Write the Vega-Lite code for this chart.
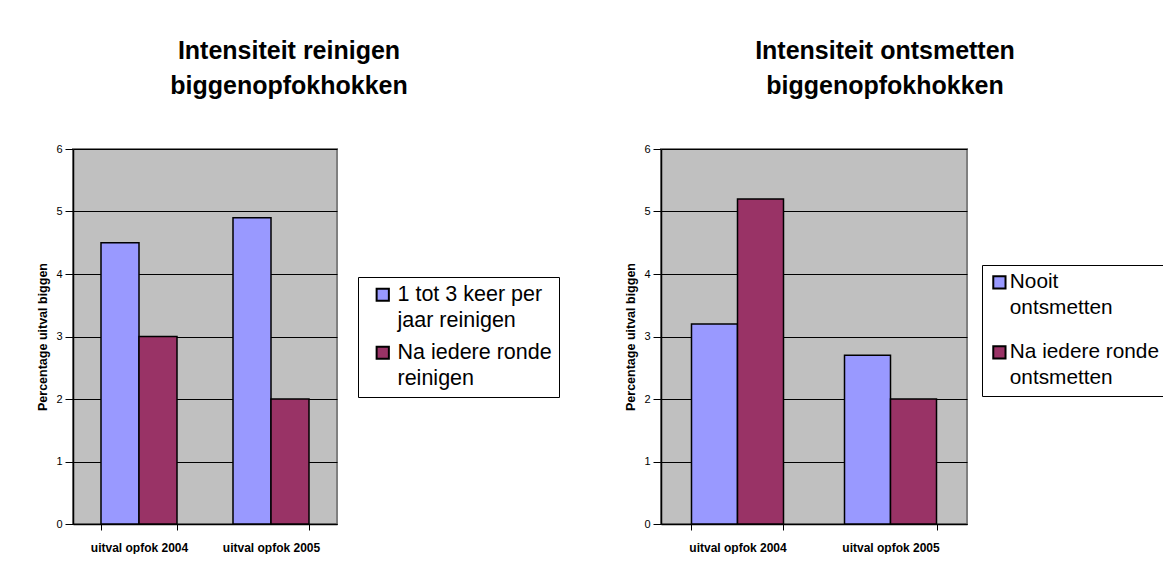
{
  "$schema": "https://vega.github.io/schema/vega-lite/v6.json",
  "background": "white",
  "padding": {"left": 35, "top": 38, "right": 0, "bottom": 0},
  "spacing": 62,
  "datasets": {
    "reinigen": [
      {"cat": "uitval opfok 2004", "grp": "1 tot 3 keer per jaar reinigen", "value": 4.5},
      {"cat": "uitval opfok 2004", "grp": "Na iedere ronde reinigen", "value": 3.0},
      {"cat": "uitval opfok 2005", "grp": "1 tot 3 keer per jaar reinigen", "value": 4.9},
      {"cat": "uitval opfok 2005", "grp": "Na iedere ronde reinigen", "value": 2.0}
    ],
    "ontsmetten": [
      {"cat": "uitval opfok 2004", "grp": "Nooit ontsmetten", "value": 3.2},
      {"cat": "uitval opfok 2004", "grp": "Na iedere ronde ontsmetten", "value": 5.2},
      {"cat": "uitval opfok 2005", "grp": "Nooit ontsmetten", "value": 2.7},
      {"cat": "uitval opfok 2005", "grp": "Na iedere ronde ontsmetten", "value": 2.0}
    ]
  },
  "hconcat": [
    {
      "data": {"name": "reinigen"},
      "width": 264,
      "height": 375,
      "title": {"text": ["Intensiteit reinigen", "biggenopfokhokken"], "dx": 84},
      "mark": {"type": "bar", "stroke": "black", "strokeWidth": 1.5},
      "encoding": {
        "x": {"field": "cat", "type": "nominal", "scale": {"paddingInner": 0.4242, "paddingOuter": 0.2121},
              "axis": {"title": null}},
        "xOffset": {"field": "grp", "type": "nominal", "sort": ["1 tot 3 keer per jaar reinigen", "Na iedere ronde reinigen"],
                    "scale": {"paddingInner": 0, "paddingOuter": 0}},
        "y": {"field": "value", "type": "quantitative", "scale": {"domain": [0, 6]},
              "axis": {"title": "Percentage uitval biggen", "values": [0,1,2,3,4,5,6]}},
        "color": {"field": "grp", "type": "nominal",
                  "scale": {"domain": ["1 tot 3 keer per jaar reinigen", "Na iedere ronde reinigen"], "range": ["#9999FF", "#993366"]},
                  "legend": {"title": null, "orient": "none", "legendX": 285, "legendY": 128, "rowPadding": 9, "symbolOffset": 7,
                             "labelExpr": "datum.label == '1 tot 3 keer per jaar reinigen' ? ['1 tot 3 keer per', 'jaar reinigen'] : ['Na iedere ronde', 'reinigen']",
                             "labelOffset": 4,
                             "encode": {"labels": {"update": {"lineHeight": {"value": 26}}}}}}
      }
    },
    {
      "data": {"name": "ontsmetten"},
      "width": 306,
      "height": 375,
      "title": {"text": ["Intensiteit ontsmetten", "biggenopfokhokken"], "dx": 71},
      "mark": {"type": "bar", "stroke": "black", "strokeWidth": 1.5},
      "encoding": {
        "x": {"field": "cat", "type": "nominal", "scale": {"paddingInner": 0.3987, "paddingOuter": 0.1993},
              "axis": {"title": null}},
        "xOffset": {"field": "grp", "type": "nominal", "sort": ["Nooit ontsmetten", "Na iedere ronde ontsmetten"],
                    "scale": {"paddingInner": 0, "paddingOuter": 0}},
        "y": {"field": "value", "type": "quantitative", "scale": {"domain": [0, 6]},
              "axis": {"title": "Percentage uitval biggen", "values": [0,1,2,3,4,5,6]}},
        "color": {"field": "grp", "type": "nominal",
                  "scale": {"domain": ["Nooit ontsmetten", "Na iedere ronde ontsmetten"], "range": ["#9999FF", "#993366"]},
                  "legend": {"title": null, "orient": "none", "legendX": 321, "legendY": 116, "rowPadding": 22,
                             "labelExpr": "datum.label == 'Nooit ontsmetten' ? ['Nooit', 'ontsmetten'] : ['Na iedere ronde', 'ontsmetten']",
                             "labelOffset": 0, "labelFontSize": 20.8,
                             "encode": {"labels": {"update": {"lineHeight": {"value": 26}}}}}}
      }
    }
  ],
  "resolve": {"scale": {"color": "independent", "xOffset": "independent", "x": "independent"}, "legend": {"color": "independent"}},
  "config": {
    "font": "Liberation Sans",
    "view": {"fill": "#C0C0C0", "stroke": "#808080", "strokeWidth": 2},
    "title": {"font": "Liberation Sans", "fontSize": 25, "fontWeight": "bold", "color": "black", "anchor": "middle", "offset": 44, "lineHeight": 35},
    "axisX": {"labelAngle": 0, "labelFontWeight": "bold", "labelFontSize": 12, "labelColor": "black", "labelPadding": 12,
              "tickBand": "extent", "grid": false, "domainColor": "black", "tickColor": "black", "tickSize": 6, "domainWidth": 1.5},
    "axisY": {"labelFontSize": 11, "labelColor": "black", "labelPadding": 3, "tickSize": 8, "tickColor": "black",
              "domainColor": "black", "domainWidth": 1.5, "gridColor": "black", "gridOpacity": 1, "gridWidth": 1,
              "titleFontSize": 12.5, "titleFontWeight": "bold", "titleColor": "black", "titlePadding": 6},
    "legend": {"fillColor": "white", "strokeColor": "black", "padding": 7, "symbolType": "square", "symbolSize": 150,
               "symbolStrokeColor": "black", "symbolStrokeWidth": 2, "symbolOpacity": 1, "labelFontSize": 21.5, "labelColor": "black",
               "labelLimit": 400}
  }
}
